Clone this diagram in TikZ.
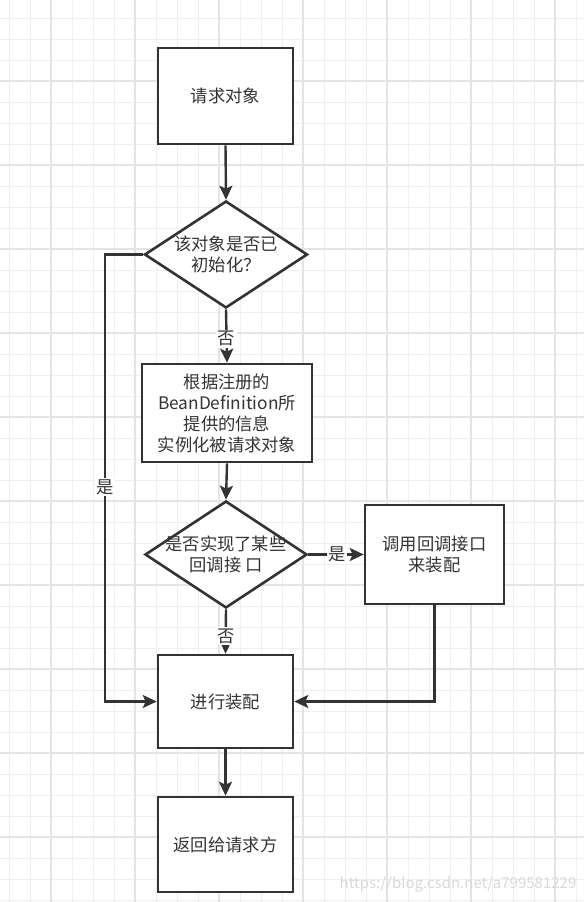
\documentclass[tikz,border=0pt]{standalone}
\usepackage{fontspec}
\newfontfamily\cjk{Noto Sans CJK SC}
\usetikzlibrary{shapes.geometric,arrows.meta}
\definecolor{ink}{HTML}{333333}
\definecolor{gridminor}{HTML}{EFEFEF}
\definecolor{gridmajor}{HTML}{E4E4E4}
\tikzset{
  txt/.style={font=\cjk\fontsize{17.3}{21}\selectfont, text=ink, align=center, inner sep=0pt},
  procbox/.style={draw=ink, line width=2.6pt, fill=white, rectangle, inner sep=0pt},
  decision/.style={draw=ink, line width=2.6pt, fill=white, diamond, inner sep=0pt},
  flow/.style={draw=ink, line width=2.4pt, -{Stealth[length=14pt,width=13pt,inset=3pt]}},
  edgelabel/.style={txt, fill=white, inner sep=1.5pt},
}
\begin{document}
\begin{tikzpicture}[x=1pt,y=-1pt]
\useasboundingbox (0,0) rectangle (584,902);
\fill[white] (0,0) rectangle (584,902);
% grid
\foreach \k in {0,...,27} {
  \draw[gridminor, line width=1pt] ({9+21*\k},0) -- ({9+21*\k},902);
}
\foreach \k in {0,...,42} {
  \draw[gridminor, line width=1pt] (0,{18+21*\k}) -- (584,{18+21*\k});
}
\foreach \k in {0,...,6} {
  \draw[gridmajor, line width=1.2pt] ({51+84*\k},0) -- ({51+84*\k},902);
}
\foreach \k in {0,...,9} {
  \draw[gridmajor, line width=1.2pt] (0,{81+84*\k}) -- (584,{81+84*\k});
}
% nodes
\node[procbox, minimum width=135pt, minimum height=96pt] (b1) at (225.5,96) {};
\node[txt] (b1t) at (b1.center) {请求对象};
\node[decision, minimum width=163pt, minimum height=107pt] (d1) at (226,254.5) {};
\node[txt] (d1t) at (d1.center) {该对象是否已\\初始化？};
\node[procbox, minimum width=170pt, minimum height=98pt] (b2) at (227,413) {};
\node[txt] (b2t) at (b2.center) {根据注册的\\BeanDefinition所\\提供的信息\\实例化被请求对象};
\node[decision, minimum width=162pt, minimum height=107pt] (d2) at (226,554.5) {};
\node[txt] (d2t) at (d2.center) {是否实现了某些\\回调接 口};
\node[procbox, minimum width=139pt, minimum height=99pt] (b3) at (434.5,554.5) {};
\node[txt] (b3t) at (b3.center) {调用回调接口\\来装配};
\node[procbox, minimum width=135pt, minimum height=93pt] (b4) at (225.5,701.5) {};
\node[txt] (b4t) at (b4.center) {进行装配};
\node[procbox, minimum width=135pt, minimum height=95pt] (b5) at (225.5,844.5) {};
\node[txt] (b5t) at (b5.center) {返回给请求方};
\coordinate (lx) at (105,0);
% connectors
\draw[flow] (b1.south) -- (d1.north);
\draw[flow] (d1.south) -- node[edgelabel, pos=0.55] (l1) {否} (b2.north);
\draw[flow] (b2.south) -- (d2.north);
\draw[flow] (d2.east) -- node[edgelabel, pos=0.52] (l2) {是} (b3.west);
\draw[flow] (d2.south) -- node[edgelabel, pos=0.6] (l3) {否} (b4.north);
\draw[flow] (b3.south) |- (b4.east);
\draw[flow] (d1.west) -- (d1.west -| lx) -- node[edgelabel, pos=0.52] (l4) {是} (lx |- b4.west) -- (b4.west);
\draw[flow] (b4.south) -- (b5.north);
% watermark
\node[font=\cjk\fontsize{15}{18}\selectfont, text=gray!30, inner sep=0pt] (wm) at (458,884) {https://blog.csdn.net/a799581229};
\end{tikzpicture}
\end{document}
